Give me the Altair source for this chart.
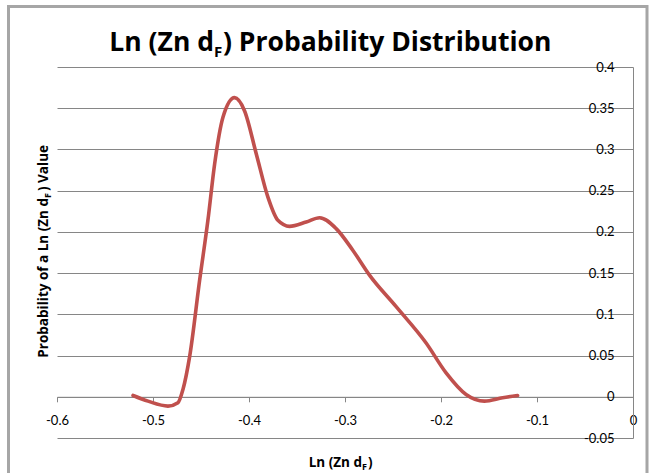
import altair as alt
import pandas as pd

# ---- data ----
x_vals = [-0.5208, -0.5052, -0.4844, -0.4740, -0.4688, -0.4618, -0.4514, -0.4428,
          -0.4358, -0.4272, -0.4150, -0.4046, -0.3924, -0.3803, -0.3699, -0.3578,
          -0.3404, -0.3265, -0.3092, -0.2919, -0.2745, -0.2467, -0.2155, -0.1947,
          -0.1739, -0.1548, -0.1358, -0.1202]
y_vals = [0.0016, -0.0053, -0.0113, -0.0072, 0.0088, 0.0490, 0.1416, 0.2140,
          0.2824, 0.3387, 0.3628, 0.3467, 0.2945, 0.2421, 0.2140, 0.2067,
          0.2119, 0.2172, 0.2040, 0.1778, 0.1476, 0.1093, 0.0652, 0.0290,
          0.0028, -0.0053, -0.0012, 0.0016]

x_ticks = [-0.6, -0.5, -0.4, -0.3, -0.2, -0.1, 0]
y_ticks = [-0.05, 0, 0.05, 0.1, 0.15, 0.2, 0.25, 0.3, 0.35, 0.4]

title_main = "Ln (Zn d"
title_sub = "F"
title_rest = ") Probability Distribution"
xtitle_main = "Ln (Zn d"
xtitle_sub = "F"
xtitle_rest = ")"
ytitle_main = "Probability of a Ln (Zn d"
ytitle_sub = "F"
ytitle_rest = ") Value"

FONT = "Open Sans"
LFONT = "Lato"
GRID = "#868686"
LINE = "#C0504D"

W, H = 576, 371

df = pd.DataFrame({"x": x_vals, "y": y_vals})
one = pd.DataFrame({"a": [0]})

xscale = alt.Scale(domain=[-0.6, 0], nice=False, zero=False)
yscale = alt.Scale(domain=[-0.05, 0.4], nice=False, zero=False)

line = alt.Chart(df).mark_line(
    color=LINE, strokeWidth=3.6, interpolate="monotone", strokeCap="round"
).encode(
    x=alt.X("x:Q", scale=xscale,
            axis=alt.Axis(values=x_ticks, orient="bottom", offset=-41.2, title=None,
                          grid=False, domainColor=GRID, tickColor=GRID, tickSize=5,
                          labelExpr="'' + datum.value", labelFont=LFONT, labelFontSize=13,
                          labelColor="black", labelPadding=13, labelOverlap=False,
                          labelFlush=False, labelBound=False)),
    y=alt.Y("y:Q", scale=yscale,
            axis=alt.Axis(values=y_ticks, orient="right", title=None, grid=True,
                          gridColor=GRID, gridOpacity=1, domainColor=GRID, tickSize=0,
                          labelAlign="right", labelPadding=-19, labelBaseline="middle",
                          labelExpr="'' + datum.value", labelFont=LFONT, labelFontSize=13,
                          labelColor="black", labelOverlap=False, labelFlush=False,
                          labelBound=False)),
)


def txt(s, x, y, size, align="left", angle=0):
    return alt.Chart(one).mark_text(
        text=s, align=align, baseline="alphabetic", font=FONT, fontSize=size,
        fontWeight="bold", angle=angle, color="black"
    ).encode(x=alt.value(x), y=alt.value(y))


frame = alt.Chart(one).mark_rect(
    filled=False, stroke="#A6A6A6", strokeWidth=3
).encode(x=alt.value(-48.5), x2=alt.value(590), y=alt.value(-60.5), y2=alt.value(430))

layers = [
    frame,
    line,
    txt(title_main, 157, -16.5, 26.5, align="right"),
    txt(title_sub, 157, -10, 15),
    txt(title_rest, 166, -16.5, 26.5),
    txt(xtitle_main, 305, 400, 13.5, align="right"),
    txt(xtitle_sub, 305, 402.5, 9),
    txt(xtitle_rest, 311, 400, 13.5),
    txt(ytitle_main, -9, 131, 13.5, align="right", angle=270),
    txt(ytitle_sub, -6.5, 131, 9, angle=270),
    txt(ytitle_rest, -9, 124, 13.5, angle=270),
]

chart = alt.layer(*layers).properties(
    width=W, height=H,
    autosize=alt.AutoSizeParams(type="none"),
    padding={"left": 57, "top": 67, "right": 19, "bottom": 35},
    background="white",
).configure_view(stroke=None)

chart.save("out.html", embed_options={"renderer": "svg", "actions": False})
